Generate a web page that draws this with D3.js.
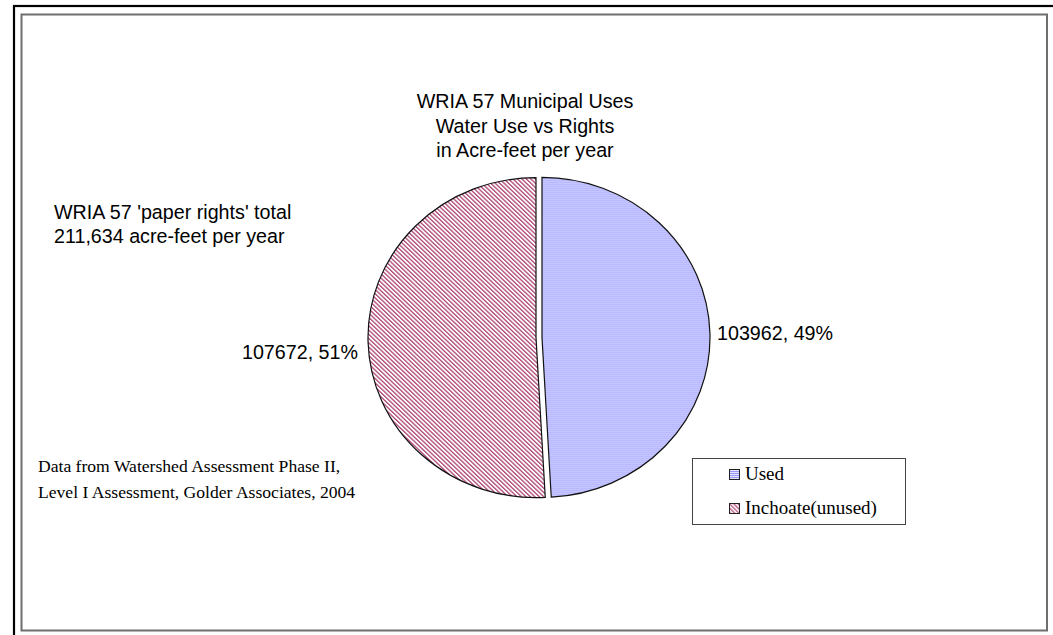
<!DOCTYPE html>
<html><head><meta charset="utf-8">
<script src="https://cdn.jsdelivr.net/npm/d3@7"></script>
<style>body{margin:0;background:#fff}svg{display:block}</style>
</head><body>
<svg id="chart" width="1053" height="635"></svg>
<script>
const categories = ["Used", "Inchoate(unused)"];
const values = [103962, 107672];
const percentLabels = ["49%", "51%"];
const titleLines = ["WRIA 57 Municipal Uses", "Water Use vs Rights", "in Acre-feet per year"];
const noteLines = ["WRIA 57 'paper rights' total", "211,634 acre-feet per year"];
const sourceLines = ["Data from Watershed Assessment Phase II,", "Level I Assessment, Golder Associates, 2004"];

const svg = d3.select("#chart");
const defs = svg.append("defs");
const sans = "Liberation Sans, Arial, sans-serif";
const serif = "Liberation Serif, Times New Roman, serif";

// patterns
const pBlue = defs.append("pattern").attr("id","pBlue").attr("patternUnits","userSpaceOnUse")
  .attr("width",4).attr("height",2);
pBlue.append("rect").attr("width",4).attr("height",2).attr("fill","#e2e2ff");
pBlue.append("rect").attr("y",1).attr("width",4).attr("height",1).attr("fill","#9c9cff");

const pPink = defs.append("pattern").attr("id","pPink").attr("patternUnits","userSpaceOnUse")
  .attr("width",3).attr("height",3).attr("patternTransform","rotate(-45)");
pPink.append("rect").attr("width",3).attr("height",3).attr("fill","#ffffff");
pPink.append("rect").attr("width",1.3).attr("height",3).attr("fill","#b04a78");

const fills = ["url(#pBlue)", "url(#pPink)"];

// frames
svg.append("rect").attr("x",14).attr("y",6).attr("width",1100).attr("height",700)
  .attr("fill","none").attr("stroke","#000").attr("stroke-width",2.2);
svg.append("rect").attr("x",21.5).attr("y",14.5).attr("width",1025.5).attr("height",616)
  .attr("fill","none").attr("stroke","#6e6e6e").attr("stroke-width",2);

// pie
const cx = 539, cy = 337.5, ry = 160, sx = 1.05;
const pie = d3.pie().sort(null).value(d => d)(values);
const arc = d3.arc().innerRadius(0).outerRadius(ry);
const explode = 3;
const g = svg.append("g").attr("transform", `translate(${cx},${cy}) scale(${sx},1)`);
g.selectAll("path").data(pie).join("path")
  .attr("d", arc)
  .attr("transform", d => {
    const a = (d.startAngle + d.endAngle)/2;
    return `translate(${Math.sin(a)*explode/sx},${-Math.cos(a)*explode})`;
  })
  .attr("fill", (d,i) => fills[i])
  .attr("stroke", "#111").attr("stroke-width", 1.2)
  .attr("vector-effect","non-scaling-stroke");

// data labels
const fmt = d3.format("d");
svg.append("text").attr("x",717).attr("y",340).attr("font-family",sans)
  .attr("font-size",19.7).attr("fill","#000").text(`${fmt(values[0])}, ${percentLabels[0]}`);
svg.append("text").attr("x",358).attr("y",359).attr("text-anchor","end").attr("font-family",sans)
  .attr("font-size",19.7).attr("fill","#000").text(`${fmt(values[1])}, ${percentLabels[1]}`);

// title
svg.append("g").selectAll("text").data(titleLines).join("text")
  .attr("x",525).attr("y",(d,i)=>108+i*24.5).attr("text-anchor","middle")
  .attr("font-family",sans).attr("font-size",19.7).attr("fill","#000")
  .text(d=>d);

// note
svg.append("g").selectAll("text").data(noteLines).join("text")
  .attr("x",54).attr("y",(d,i)=>219+i*23.5)
  .attr("font-family",sans).attr("font-size",19.7).attr("fill","#000")
  .text(d=>d);

// source
svg.append("g").selectAll("text").data(sourceLines).join("text")
  .attr("x",38).attr("y",(d,i)=>472+i*26)
  .attr("font-family",serif).attr("font-size",17.6).attr("fill","#000")
  .text(d=>d);

// legend
const lg = svg.append("g");
lg.append("rect").attr("x",692.5).attr("y",458.5).attr("width",213).attr("height",66)
  .attr("fill","#fff").attr("stroke","#444").attr("stroke-width",1);
const items = lg.selectAll("g.item").data(categories).join("g").attr("class","item")
  .attr("transform",(d,i)=>`translate(0,${i*34})`);
items.append("rect").attr("x",729.5).attr("y",469.5).attr("width",10).attr("height",10)
  .attr("fill",(d,i)=>fills[i]).attr("stroke","#222").attr("stroke-width",1);
items.append("text").attr("x",745).attr("y",480)
  .attr("font-family",serif).attr("font-size",19).attr("fill","#000")
  .text(d=>d);
</script>
</body></html>
